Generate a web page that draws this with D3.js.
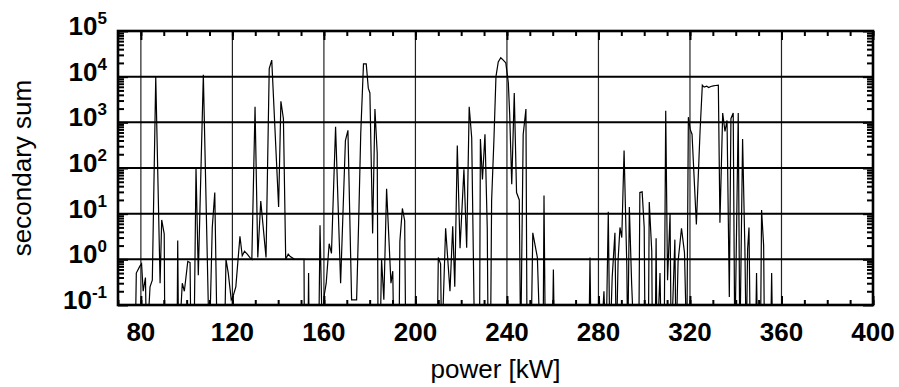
<!DOCTYPE html>
<html>
<head>
<meta charset="utf-8">
<script src="https://cdn.jsdelivr.net/npm/d3@7"></script>
<style>
  body { margin: 0; background: #fff; }
  svg { display: block; font-family: "Liberation Sans", Arial, sans-serif; }
</style>
</head>
<body>
<div id="chart"></div>
<script>
// power [kW] readings and the matching secondary sum (values < 0.1 fall off the plot)
const power = [
  77.5, 78, 79.5, 80.3, 81, 82, 82.5, 84, 85, 86.5, 88.4, 89.1, 90.2, 90.5,
  95.8, 96.1, 96.5, 98.1, 99, 100.5, 101.5, 101.9, 103.2, 104.1, 105.1, 107.3,
  109.9, 111.2, 112.3, 113.4, 116.5, 117.2, 118.2, 119.5, 120.2, 121.5, 123.3,
  124.3, 125.3, 126.5, 127.6, 128.5, 129.9, 131.1, 132.4, 134.7, 136.1, 137.2,
  140.2, 141.2, 142.3, 143.3, 144.4, 145.3, 147.2, 151.3, 151.5, 153, 153.3,
  153.6, 157.7, 158.3, 159.4, 160.2, 161, 162.3, 163.3, 165.1, 167.3, 169.4,
  170.5, 172.1, 174.3, 175.2, 176.1, 177.3, 178.5, 179.4, 180.1, 181.3, 182.3,
  183.3, 183.7, 184.5, 185.2, 186.2, 187.4, 189.3, 190.1, 190.6, 192.8, 193.2,
  194.3, 195.3, 195.8, 209.5, 210, 211, 211.5, 213.2, 215.1, 216.3, 217.2,
  218.3, 219.5, 221.2, 222.4, 223.5, 224.6, 225.9, 228, 228.4, 229.3, 230.4,
  231.4, 231.8, 232.8, 233.3, 234.3, 235.2, 236.2, 237.3, 238.4, 239.5, 240.6,
  241.2, 242.1, 243.2, 244.2, 245.4, 246, 247.1, 248.3, 248.8, 250.5, 251.3,
  253.3, 254.6, 255.8, 256.2, 256.8, 259.8, 260.3, 260.8, 275.8, 276.3, 276.8,
  279.5, 280.4, 281, 282.4, 283.3, 284.3, 285, 286, 287.2, 287.8, 288.6, 289.4,
  290.2, 291.2, 292.4, 292.8, 293.5, 294.5, 295.7, 297.6, 298.1, 299.1, 300,
  300.4, 301.8, 302.2, 303.3, 303.6, 304.8, 305.2, 305.6, 306.9, 307.5, 308.7,
  309.4, 310.2, 311.3, 311.8, 313.4, 313.9, 314.8, 316.3, 317.6, 318.6, 319.3,
  320.1, 320.9, 322.8, 324.4, 325.4, 326.2, 327.3, 328.2, 329.1, 330.2, 331.2,
  332.4, 333.1, 334.3, 335.3, 336.2, 337.2, 337.9, 338.9, 339.6, 341.1, 341.8,
  343, 344, 344.6, 345.2, 345.8, 346.4, 348.6, 349.1, 349.6, 350.8, 351.3,
  352.2, 352.6, 355.2, 355.7, 356.2
];
const secondarySum = [
  0.01, 0.5, 0.7, 0.8, 0.2, 0.4, 0.01, 0.25, 0.35, 10000, 0.3, 7.3, 3.6, 0.01,
  0.01, 2.6, 0.01, 0.3, 0.2, 0.9, 0.85, 0.01, 0.01, 100, 0.45, 11000,
  0.01, 5, 29, 0.01, 0.01, 1.0, 0.5, 0.13, 0.15, 0.25, 3.2,
  1.2, 1.5, 1.3, 1.1, 1.0, 2200, 1.1, 19, 1.1, 15000, 23000,
  14, 2900, 1200, 1.0, 1.3, 1.15, 1.0, 1.0, 0.01, 0.01, 0.5,
  0.01, 0.01, 5.6, 0.01, 0.17, 0.3, 2.2, 1.35, 800, 0.3, 400,
  670, 0.13, 0.13, 7, 570, 19000, 19000, 5600, 4400, 3.7, 1950,
  210, 0.01, 0.01, 1.0, 0.13, 35, 0.3, 0.55, 0.01, 0.01, 2.5,
  13, 7, 0.01, 0.01, 1.1, 0.8, 0.01, 4.8, 0.2, 5.3, 0.25,
  310, 1.75, 94, 1.8, 2200, 460, 0.01, 0.01, 430, 56, 550,
  4.8, 0.01, 0.01, 19, 400, 10000, 21000, 26000, 23000, 20000, 7400,
  1500, 44, 4400, 29, 20, 0.01, 540, 1950, 0.01, 0.01, 3.8,
  1.1, 0.01, 0.01, 25, 0.01, 0.01, 0.6, 0.01, 0.01, 1.1, 0.01,
  0.01, 0.15, 0.01, 0.2, 0.01, 11, 0.01, 0.4, 3.8, 0.01, 1.0, 5,
  3, 240, 0.7, 0.01, 14, 0.3, 0.01, 0.01, 29, 30, 5,
  0.01, 0.01, 18, 1.5, 0.01, 0.01, 2.9, 0.01, 0.5, 0.01, 0.01,
  1800, 0.35, 10, 0.01, 2.7, 0.01, 0.9, 4.8, 1.4, 0.01, 1300,
  700, 550, 5.8, 630, 6500, 5900, 6200, 5800, 6100, 6300, 6400,
  6500, 6.3, 1600, 630, 1100, 0.15, 1200, 1600, 0.01, 1600, 0.01,
  430, 1.8, 0.01, 1.7, 5, 0.01, 0.01, 0.5, 0.01, 0.01, 12,
  2, 0.01, 0.01, 0.5, 0.01
];

const xTicks = [80, 120, 160, 200, 240, 280, 320, 360, 400];
const xMinorTicks = d3.range(70, 401, 10);
const yExponents = [-1, 0, 1, 2, 3, 4, 5];

const width = 899, height = 387;
const margin = { left: 118, right: 26, top: 31, bottom: 82 };

const svg = d3.select('#chart')
  .append('svg')
  .attr('width', width)
  .attr('height', height);

const x = d3.scaleLinear()
  .domain([70, 400])
  .range([margin.left, width - margin.right]);

const y = d3.scaleLog()
  .domain([0.1, 1e5])
  .range([height - margin.bottom, margin.top]);

const yMajor = yExponents.map(e => Math.pow(10, e));
const yMinor = [];
yExponents.slice(0, -1).forEach(e => {
  for (let k = 2; k <= 9; k++) yMinor.push(k * Math.pow(10, e));
});

// grid
const grid = svg.append('g');
grid.selectAll('line.vgrid')
  .data(xTicks.slice(0, -1))
  .join('line')
  .attr('class', 'vgrid')
  .attr('x1', d => x(d)).attr('x2', d => x(d))
  .attr('y1', y(1e5)).attr('y2', y(0.1))
  .attr('stroke', '#222')
  .attr('stroke-width', 1.2);

grid.selectAll('line.hgrid')
  .data(yMajor.slice(1, -1))
  .join('line')
  .attr('class', 'hgrid')
  .attr('x1', x(70)).attr('x2', x(400))
  .attr('y1', d => y(d)).attr('y2', d => y(d))
  .attr('stroke', '#000')
  .attr('stroke-width', 2);

// data line
svg.append('clipPath')
  .attr('id', 'plot-clip')
  .append('rect')
  .attr('x', x(70)).attr('y', y(1e5))
  .attr('width', x(400) - x(70))
  .attr('height', y(0.1) - y(1e5));

const line = d3.line()
  .x((d, i) => x(power[i]))
  .y(d => y(d));

svg.append('path')
  .datum(secondarySum)
  .attr('clip-path', 'url(#plot-clip)')
  .attr('fill', 'none')
  .attr('stroke', '#000')
  .attr('stroke-width', 1.2)
  .attr('stroke-linejoin', 'miter')
  .attr('d', line);

// ticks (inward, on all four sides)
function tickAxis(axis, transform) {
  const g = svg.append('g').attr('transform', transform).call(axis);
  g.select('.domain').remove();
  g.selectAll('.tick line').attr('stroke', '#000').attr('stroke-width', 2);
  g.selectAll('text').remove();
  return g;
}

tickAxis(d3.axisBottom(x).tickValues(xMinorTicks).tickSize(-5), `translate(0,${y(0.1)})`);
tickAxis(d3.axisBottom(x).tickValues(xTicks).tickSize(-9), `translate(0,${y(0.1)})`);
tickAxis(d3.axisTop(x).tickValues(xMinorTicks).tickSize(-5), `translate(0,${y(1e5)})`);
tickAxis(d3.axisTop(x).tickValues(xTicks).tickSize(-9), `translate(0,${y(1e5)})`);

tickAxis(d3.axisLeft(y).tickValues(yMinor).tickSize(-6), `translate(${x(70)},0)`);
tickAxis(d3.axisLeft(y).tickValues(yMajor).tickSize(-10), `translate(${x(70)},0)`);
tickAxis(d3.axisRight(y).tickValues(yMinor).tickSize(-6), `translate(${x(400)},0)`);
tickAxis(d3.axisRight(y).tickValues(yMajor).tickSize(-10), `translate(${x(400)},0)`);

// frame
svg.append('rect')
  .attr('x', x(70)).attr('y', y(1e5))
  .attr('width', x(400) - x(70))
  .attr('height', y(0.1) - y(1e5))
  .attr('fill', 'none')
  .attr('stroke', '#000')
  .attr('stroke-width', 2.6);

// x tick labels
svg.append('g')
  .selectAll('text')
  .data(xTicks)
  .join('text')
  .attr('x', d => x(d))
  .attr('y', y(0.1) + 36)
  .attr('text-anchor', 'middle')
  .attr('font-size', 26)
  .attr('font-weight', 'bold')
  .text(d => d);

// y tick labels 10^n
const yLab = svg.append('g')
  .selectAll('text')
  .data(yExponents)
  .join('text')
  .attr('x', 107)
  .attr('y', d => y(Math.pow(10, d)) + 4)
  .attr('text-anchor', 'end')
  .attr('font-size', 26)
  .attr('font-weight', 'bold');
yLab.append('tspan').text('10');
yLab.append('tspan')
  .attr('font-size', 17)
  .attr('dy', -11)
  .text(d => d);

// axis titles
svg.append('text')
  .attr('x', (x(70) + x(400)) / 2)
  .attr('y', 378)
  .attr('text-anchor', 'middle')
  .attr('font-size', 26)
  .text('power [kW]');

svg.append('text')
  .attr('transform', `translate(31,${(y(0.1) + y(1e5)) / 2}) rotate(-90)`)
  .attr('text-anchor', 'middle')
  .attr('font-size', 26)
  .text('secondary sum');
</script>
</body>
</html>
